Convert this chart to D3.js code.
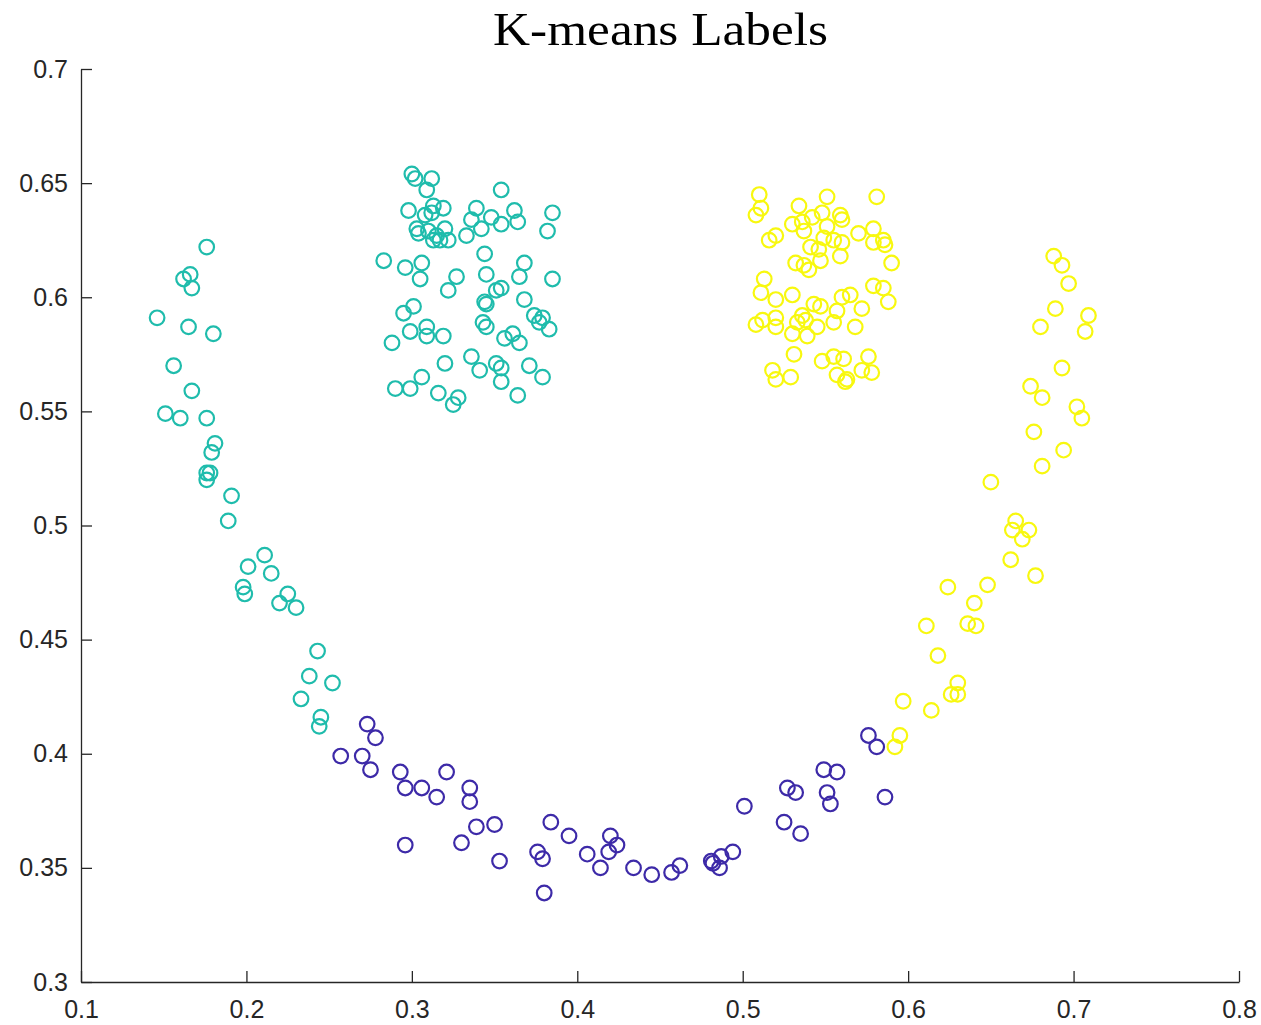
<!DOCTYPE html>
<html>
<head>
<meta charset="utf-8">
<script src="https://cdn.jsdelivr.net/npm/d3@7"></script>
<style>
  html, body { margin: 0; padding: 0; background: #ffffff; }
  svg { display: block; }
</style>
</head>
<body>
<svg id="chart" width="1261" height="1025"></svg>
<script>
// ---- Data ----
const titleText = "K-means Labels";
const xTicks = [0.1, 0.2, 0.3, 0.4, 0.5, 0.6, 0.7, 0.8];
const yTicks = [0.3, 0.35, 0.4, 0.45, 0.5, 0.55, 0.6, 0.65, 0.7];

// Cluster 2 (teal): upper-left blob + left arm of the moon
const tealX = [0.300,0.302,0.312,0.309,0.354,0.298,0.313,0.319,0.312,0.308,0.339,0.336,0.348,0.362,0.364,0.342,0.354,0.333,0.385,0.382,
  0.303,0.304,0.310,0.315,0.320,0.313,0.317,0.322,0.283,0.296,0.306,0.305,0.344,0.327,0.345,0.368,0.365,0.385,0.322,0.351,
  0.354,0.368,0.295,0.301,0.344,0.345,0.374,0.379,0.377,0.383,0.343,0.345,0.299,0.309,0.309,0.319,0.288,0.356,0.361,0.365,
  0.320,0.336,0.341,0.351,0.354,0.354,0.371,0.379,0.306,0.299,0.290,0.316,0.328,0.325,0.364,
  0.176,0.162,0.166,0.167,0.146,0.165,0.180,0.156,0.167,0.151,0.160,0.176,0.181,0.179,0.176,0.178,0.176,0.191,0.189,0.211,
  0.201,0.215,0.198,0.199,0.225,0.220,0.230,0.243,0.238,0.252,0.233,0.245,0.244];
const tealY = [0.654,0.652,0.652,0.647,0.647,0.638,0.640,0.639,0.637,0.636,0.639,0.634,0.635,0.638,0.633,0.630,0.632,0.627,0.637,0.629,
  0.630,0.628,0.629,0.627,0.630,0.625,0.625,0.625,0.616,0.613,0.615,0.608,0.619,0.609,0.610,0.615,0.609,0.608,0.603,0.603,
  0.604,0.599,0.593,0.596,0.598,0.597,0.592,0.591,0.589,0.586,0.589,0.587,0.585,0.587,0.583,0.583,0.580,0.582,0.584,0.580,
  0.571,0.574,0.568,0.571,0.569,0.563,0.570,0.565,0.565,0.560,0.560,0.558,0.556,0.553,0.557,
  0.622,0.608,0.610,0.604,0.591,0.587,0.584,0.570,0.559,0.549,0.547,0.547,0.536,0.532,0.523,0.523,0.520,0.513,0.502,0.487,
  0.482,0.479,0.473,0.470,0.470,0.466,0.464,0.445,0.434,0.431,0.424,0.416,0.412];

// Cluster 1 (purple): bottom of the moon
const purpleX = [0.273,0.278,0.257,0.270,0.275,0.293,0.296,0.306,0.315,0.321,0.335,0.335,0.330,0.339,0.350,0.353,0.296,0.376,0.379,0.384,
  0.380,0.395,0.406,0.414,0.420,0.424,0.419,0.434,0.445,0.457,0.462,0.481,0.482,0.486,0.487,0.494,0.501,0.527,0.532,0.525,
  0.535,0.549,0.557,0.551,0.553,0.576,0.581,0.586];
const purpleY = [0.413,0.407,0.399,0.399,0.393,0.392,0.385,0.385,0.381,0.392,0.385,0.379,0.361,0.368,0.369,0.353,0.360,0.357,0.354,0.370,
  0.339,0.364,0.356,0.350,0.364,0.360,0.357,0.350,0.347,0.348,0.351,0.353,0.352,0.350,0.355,0.357,0.377,0.385,0.383,0.370,
  0.365,0.393,0.392,0.383,0.378,0.408,0.403,0.381];

// Cluster 3 (yellow): upper-right blob + right arm of the moon
const yellowX = [0.510,0.511,0.508,0.551,0.581,0.534,0.548,0.542,0.559,0.560,0.530,0.536,0.537,0.551,0.516,0.520,0.570,0.579,0.579,0.585,
  0.586,0.549,0.555,0.560,0.541,0.546,0.547,0.559,0.532,0.537,0.540,0.590,0.513,0.511,0.520,0.530,0.543,0.547,0.560,0.565,
  0.579,0.585,0.588,0.557,0.572,0.508,0.512,0.520,0.520,0.536,0.533,0.538,0.530,0.539,0.545,0.555,0.568,0.531,0.548,0.555,
  0.561,0.576,0.572,0.578,0.518,0.520,0.529,0.557,0.562,0.563,
  0.688,0.693,0.697,0.689,0.709,0.707,0.680,0.693,0.674,0.681,0.702,0.705,0.676,0.694,0.681,0.650,0.665,0.663,0.673,0.669,
  0.662,0.677,0.624,0.648,0.640,0.636,0.641,0.611,0.618,0.630,0.626,0.630,0.597,0.614,0.595,0.592];
const yellowY = [0.645,0.639,0.636,0.644,0.644,0.640,0.637,0.635,0.636,0.634,0.632,0.633,0.629,0.631,0.625,0.627,0.628,0.630,0.624,0.625,
  0.623,0.626,0.625,0.624,0.622,0.621,0.616,0.618,0.615,0.614,0.612,0.615,0.608,0.602,0.599,0.601,0.597,0.596,0.600,0.601,
  0.605,0.604,0.598,0.594,0.595,0.588,0.590,0.591,0.587,0.592,0.589,0.590,0.584,0.583,0.587,0.589,0.587,0.575,0.572,0.574,
  0.573,0.574,0.568,0.567,0.568,0.564,0.565,0.566,0.563,0.564,
  0.618,0.614,0.606,0.595,0.592,0.585,0.587,0.569,0.561,0.556,0.552,0.547,0.541,0.533,0.526,0.519,0.502,0.498,0.498,0.494,
  0.485,0.478,0.473,0.474,0.466,0.457,0.456,0.456,0.443,0.431,0.426,0.426,0.423,0.419,0.408,0.403];

const series = [
  { name: "cluster1", xs: purpleX, ys: purpleY, color: "#3d2aa8" },
  { name: "cluster2", xs: tealX,   ys: tealY,   color: "#1fbcac" },
  { name: "cluster3", xs: yellowX, ys: yellowY, color: "#f8f80f" }
];

// ---- Layout ----
const svg = d3.select("#chart");
const plotLeft = 81, plotRight = 1239, plotTop = 69, plotBottom = 982;
const xScale = d3.scaleLinear().domain([0.1, 0.8]).range([plotLeft, plotRight]);
const yScale = d3.scaleLinear().domain([0.3, 0.7]).range([plotBottom, plotTop]);
const axisColor = "#262626";
const fmt = d => String(+d.toFixed(2));

// Title
svg.append("text")
  .attr("x", 660.5)
  .attr("y", 45)
  .attr("text-anchor", "middle")
  .attr("font-family", "'Liberation Serif', 'DejaVu Serif', serif")
  .attr("font-size", 47)
  .attr("textLength", 335)
  .attr("lengthAdjust", "spacingAndGlyphs")
  .attr("fill", "#000")
  .text(titleText);

// Axes
const xAxis = d3.axisBottom(xScale).tickValues(xTicks).tickFormat(fmt)
  .tickSizeInner(-11).tickSizeOuter(0).tickPadding(18);
const yAxis = d3.axisLeft(yScale).tickValues(yTicks).tickFormat(fmt)
  .tickSizeInner(-11).tickSizeOuter(0).tickPadding(13);

const gx = svg.append("g").attr("transform", `translate(0,${plotBottom})`).call(xAxis);
const gy = svg.append("g").attr("transform", `translate(${plotLeft},0)`).call(yAxis);

[gx, gy].forEach(g => {
  g.select(".domain").attr("stroke", axisColor).attr("stroke-width", 1.3);
  g.selectAll(".tick line").attr("stroke", axisColor).attr("stroke-width", 1.3);
  g.selectAll(".tick text")
    .attr("fill", axisColor)
    .attr("font-family", "'Liberation Sans', Arial, Helvetica, sans-serif")
    .attr("font-size", 25);
});

// Points
series.forEach(s => {
  svg.append("g").attr("class", s.name)
    .selectAll("circle")
    .data(s.xs.map((v, i) => [v, s.ys[i]]))
    .join("circle")
    .attr("cx", d => xScale(d[0]))
    .attr("cy", d => yScale(d[1]))
    .attr("r", 7.3)
    .attr("fill", "none")
    .attr("stroke", s.color)
    .attr("stroke-width", 2.2);
});
</script>
</body>
</html>
